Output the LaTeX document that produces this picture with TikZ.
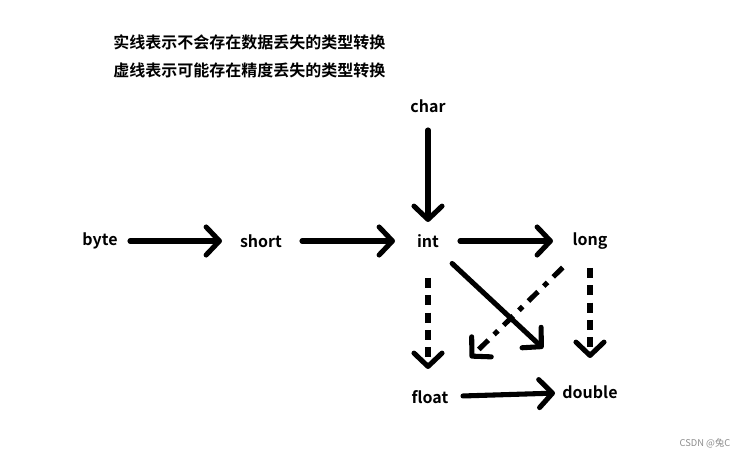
\documentclass[tikz,border=0pt]{standalone}
\usepackage{fontspec}
\setmainfont{Noto Sans CJK SC}[BoldFont={Noto Sans CJK SC Bold}]
\newfontfamily\cjkbold{Noto Sans CJK SC Bold}
\usetikzlibrary{arrows.meta}
\begin{document}
\begin{tikzpicture}[x=0.75pt,y=-0.75pt,
    lbl/.style={font=\cjkbold\fontsize{12}{14}\selectfont,inner sep=0pt},
    conv/.style={line width=3.8pt,line cap=round,
      -{Straight Barb[length=10pt,width=21pt,line width=3.8pt,round]}},
    lossy/.style={conv,line cap=butt,dash pattern=on 7.5pt off 5.5pt},
    gap/.style 2 args={shorten <=#1*0.75pt,shorten >=#2*0.75pt}]
      \useasboundingbox (0,0) rectangle (754,459);
      % legend
      \node[lbl,anchor=west] (solid) at (113,42) {实线表示不会存在数据丢失的类型转换};
      \node[lbl,anchor=west] (dash) at (113,70) {虚线表示可能存在精度丢失的类型转换};
      % types
      \draw
        (100,241) node[lbl] (byte){byte}
        (261,241) node[lbl] (short){short}
        (428,241) node[lbl] (int){int}
        (590,241) node[lbl] (long){long}
        (428,106) node[lbl] (char){char}
        (430,397) node[lbl] (float){float}
        (590,392) node[lbl] (double){double};
      \begin{scope}[conv]
        \draw[gap={30}{39}] (byte.center) to (short.center);
        \draw[gap={41}{33}] (short.center) to (int.center);
        \draw[gap={32}{37}] (int.center) to (long.center);
        \draw[gap={24}{19}] (char.center) to (int.center);
        \draw[gap={33}{64}] (int.center) to (double.center);
        \draw[gap={33}{35}] (float.center) to (double.center);
      \end{scope}
      \begin{scope}[lossy]
        \draw[gap={37}{28}] (int.center) to (int.center |- float.center);
        \draw[gap={27}{34}] (long.center) to (double.center);
        \draw[gap={38}{56},dash pattern=on 10pt off 6pt on 4pt off 6pt] (long.center) to (float.center);
      \end{scope}
      % watermark
      \node[font=\fontsize{7}{8}\selectfont,text=black!45] (mark) at (705,443) {CSDN @兔C};
    \end{tikzpicture}
\end{document}
